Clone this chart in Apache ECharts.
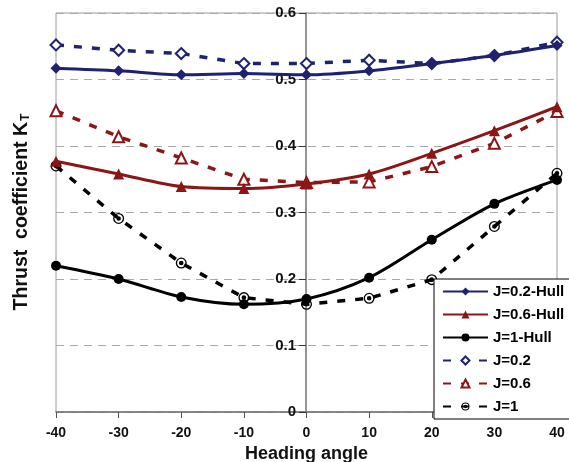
<!DOCTYPE html>
<html>
<head>
<meta charset="utf-8">
<script src="https://cdn.jsdelivr.net/npm/echarts@6/dist/echarts.min.js"></script>
<style>
  html, body { margin: 0; padding: 0; background: #fff; }
  #chart { width: 569px; height: 462px; }
</style>
</head>
<body>
<div id="chart"></div>
<script>
// heading angles
var angles = [-40, -30, -20, -10, 0, 10, 20, 30, 40];

// thrust coefficient KT, with hull
var hull02 = [0.517, 0.513, 0.507, 0.509, 0.507, 0.513, 0.524, 0.536, 0.551];
var hull06 = [0.377, 0.358, 0.339, 0.336, 0.343, 0.358, 0.389, 0.423, 0.459];
var hull10 = [0.220, 0.200, 0.173, 0.162, 0.170, 0.202, 0.259, 0.313, 0.349];

// thrust coefficient KT, open water
var open02 = [0.552, 0.544, 0.539, 0.524, 0.524, 0.529, 0.524, 0.536, 0.556];
var open06 = [0.453, 0.414, 0.382, 0.350, 0.345, 0.346, 0.369, 0.404, 0.452];
var open10 = [0.370, 0.291, 0.224, 0.172, 0.162, 0.171, 0.199, 0.279, 0.359];

var navy = '#1f2270';
var red = '#8b1616';
var black = '#000000';

function pairs(vals) {
  return angles.map(function (a, i) { return [a, vals[i]]; });
}

// ring (two half annuli) with a dot inside
var dotCircle = 'path://M-10,0A10,10 0 0,1 10,0L7.6,0A7.6,7.6 0 0,0 -7.6,0Z' +
  'M10,0A10,10 0 0,1 -10,0L-7.6,0A7.6,7.6 0 0,0 7.6,0Z' +
  'M-4.2,0A4.2,4.2 0 0,1 4.2,0A4.2,4.2 0 0,1 -4.2,0Z';

function solid(name, vals, color, symbol, size) {
  return {
    name: name,
    type: 'line',
    data: pairs(vals),
    smooth: 0.3,
    symbol: symbol,
    symbolSize: size,
    color: color,
    lineStyle: { width: 3, color: color },
    itemStyle: { color: color },
    z: 3
  };
}

function dashed(name, vals, color, symbol, size, border) {
  return {
    name: name,
    type: 'line',
    data: pairs(vals),
    smooth: false,
    symbol: symbol,
    symbolSize: size,
    color: color,
    lineStyle: { width: 3.5, color: color, type: [8, 10] },
    itemStyle: { color: color, borderColor: color, borderWidth: border },
    z: 2
  };
}

var chart = echarts.init(document.getElementById('chart'));
var option = {
  animation: false,
  backgroundColor: '#fff',
  textStyle: { fontFamily: 'Liberation Sans, Arial, sans-serif' },
  grid: {
    left: 56, right: 12, top: 13, bottom: 50,
    outerBoundsMode: 'none',
    containLabel: false,
    show: true, borderColor: '#9a9a9a', borderWidth: 1
  },
  xAxis: {
    type: 'value',
    min: -40, max: 40, interval: 10,
    name: 'Heading angle',
    nameLocation: 'middle',
    nameGap: 24,
    nameTextStyle: { fontSize: 18, fontWeight: 'bold', color: '#111' },
    axisLine: { onZero: false, lineStyle: { color: '#707070', width: 1.5 } },
    axisTick: { show: true, length: 6, lineStyle: { color: '#555' } },
    axisLabel: { fontSize: 14, fontWeight: 'bold', color: '#111', margin: 14 },
    splitLine: { show: false }
  },
  yAxis: {
    type: 'value',
    min: 0, max: 0.6, interval: 0.1,
    offset: -250,
    axisLine: { show: true, onZero: false, lineStyle: { color: '#707070', width: 1.5 } },
    axisTick: { show: true, length: 7, lineStyle: { color: '#333' } },
    axisLabel: {
      fontSize: 15, fontWeight: 'bold', color: '#111', margin: 10,
      formatter: function (v) { return v === 0 ? '0' : v.toFixed(1); }
    },
    splitLine: { show: true, lineStyle: { color: '#a8a8a8', type: [8, 6], width: 1 } }
  },
  legend: {
    orient: 'vertical',
    left: 434, top: 279,
    width: 135,
    padding: [5, 20, 5, 8],
    itemWidth: 45,
    itemHeight: 10,
    itemGap: 8,
    backgroundColor: '#fff',
    borderColor: '#000',
    borderWidth: 1,
    borderRadius: 0,
    textStyle: { fontSize: 15, fontWeight: 'bold', color: '#000' },
    data: ['J=0.2-Hull', 'J=0.6-Hull', 'J=1-Hull', 'J=0.2', 'J=0.6', 'J=1']
  },
  graphic: [{
    type: 'text',
    x: 22, y: 212,
    rotation: Math.PI / 2,
    style: {
      text: '{a|Thrust  coefficient K}{b|T}',
      align: 'center',
      verticalAlign: 'middle',
      rich: {
        a: { fontSize: 19.5, fontWeight: 'bold', fill: '#111', fontFamily: 'Liberation Sans, Arial, sans-serif' },
        b: { fontSize: 12, fontWeight: 'bold', fill: '#111', verticalAlign: 'bottom', padding: [6, 0, 0, 1], fontFamily: 'Liberation Sans, Arial, sans-serif' }
      }
    }
  }],
  series: [
    solid('J=0.2-Hull', hull02, navy, 'diamond', 11),
    solid('J=0.6-Hull', hull06, red, 'triangle', 11),
    solid('J=1-Hull', hull10, black, 'circle', 10),
    dashed('J=0.2', open02, navy, 'emptyDiamond', 11, 1.3),
    dashed('J=0.6', open06, red, 'emptyTriangle', 11, 1.3),
    dashed('J=1', open10, black, dotCircle, 11, 0)
  ]
};
chart.setOption(option);
</script>
</body>
</html>
